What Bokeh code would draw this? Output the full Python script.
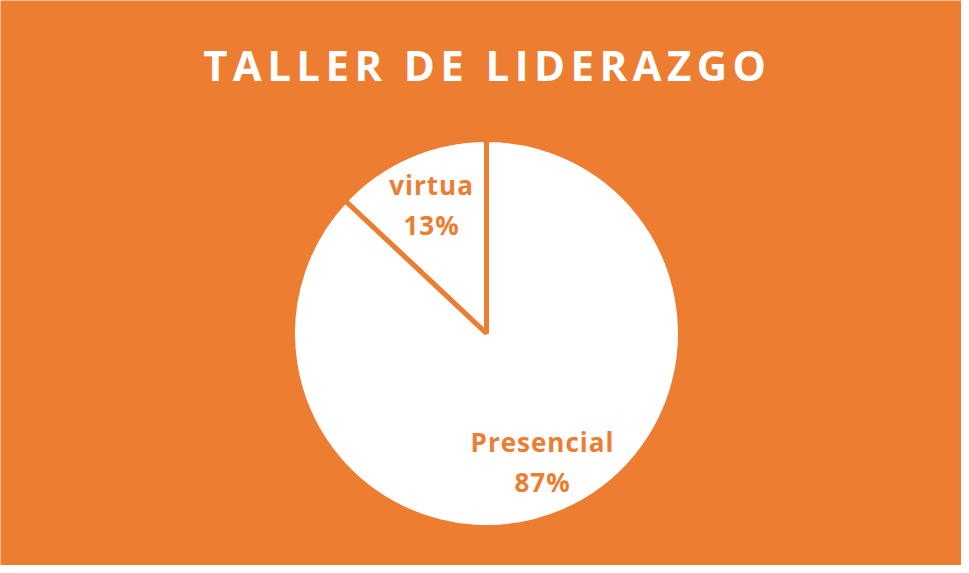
import numpy as np
from bokeh.plotting import figure
from bokeh.models import ColumnDataSource, Label, CustomJS
from bokeh.document import Document
from bokeh.core.properties import value
from bokeh.embed import file_html
from bokeh.resources import INLINE

categories = ["virtua", "Presencial"]
values = [13, 87]
pct_labels = ["13%", "87%"]
title_text = "TALLER DE LIDERAZGO"

ORANGE = "#ED7D31"
W, H = 961, 565
CX, CY, R = 486, 232, 194

vals = np.array(values, dtype=float)
frac = vals / vals.sum()
ang = frac * 2 * np.pi
starts = np.pi / 2 + np.concatenate([[0], np.cumsum(ang)[:-1]])
ends = starts + ang
mids = (starts + ends) / 2
lr = 0.72 * R

src = ColumnDataSource(dict(
    cat=categories, pct=pct_labels, start=starts, end=ends,
    lx=CX + lr * np.cos(mids), ly=CY + lr * np.sin(mids),
))

p = figure(width=W, height=H, x_range=(0, W), y_range=(0, H),
           output_backend="svg", toolbar_location=None, min_border=0,
           background_fill_color=ORANGE, border_fill_color=ORANGE)
p.outline_line_color = None
p.axis.visible = False
p.grid.visible = False

p.wedge(x=CX, y=CY, radius=R, start_angle="start", end_angle="end",
        direction="anticlock", fill_color="white", line_color=ORANGE,
        line_width=5, source=src)

p.text(x="lx", y="ly", text="cat", source=src, text_align="center",
       text_baseline="middle", y_offset=-20, text_color=ORANGE,
       text_font=value("Open Sans"), text_font_style="bold",
       text_font_size="26px")
p.text(x="lx", y="ly", text="pct", source=src, text_align="center",
       text_baseline="middle", y_offset=20, text_color=ORANGE,
       text_font=value("Open Sans"), text_font_style="bold",
       text_font_size="26px")

p.add_layout(Label(x=484, y=H - 64, x_units="screen", y_units="screen",
                   text=title_text, text_align="center", text_baseline="middle",
                   text_color="white", text_font="Open Sans",
                   text_font_style="bold", text_font_size="42px"))

# letter spacing (texts are tracked in the reference); keep centred
js = """
function apply(root) {
  const els = root.querySelectorAll('*');
  for (const el of els) {
    if (el.shadowRoot) apply(el.shadowRoot);
    if (el.tagName && el.tagName.toLowerCase() === 'text' && !el.dataset.ls) {
      let fs = parseFloat(el.getAttribute('font-size'));
      if (isNaN(fs)) fs = parseFloat(getComputedStyle(el).fontSize);
      let s = 0;
      if (fs >= 40) s = 5.4;
      else if (fs >= 20) s = 1.0;
      if (s > 0) {
        el.dataset.ls = '1';
        const n = el.textContent.length;
        el.style.letterSpacing = s + 'px';
        const tr = el.getAttribute('transform') || '';
        el.setAttribute('transform', (tr + ' translate(' + (-s * (n - 1) / 2) + ',0)').trim());
      }
    }
  }
}
apply(document);
setInterval(() => apply(document), 100);
"""
doc = Document()
doc.add_root(p)
doc.js_on_event("document_ready", CustomJS(code=js))

open("out.html", "w").write(file_html(p, INLINE))
